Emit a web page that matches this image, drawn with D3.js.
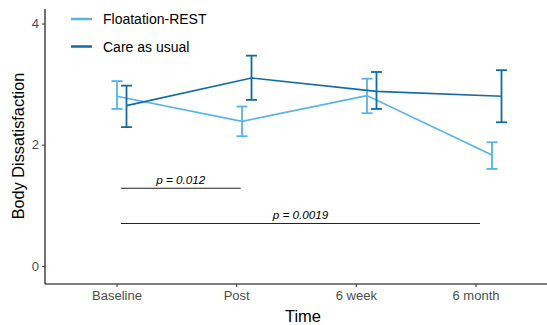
<!DOCTYPE html>
<html><head><meta charset="utf-8">
<script src="https://cdn.jsdelivr.net/npm/d3@7"></script>
<style>body{margin:0;background:#fff;font-family:"Liberation Sans",Arial,sans-serif;}</style>
</head><body>
<svg id="c" width="547" height="325"></svg>
<script>
const categories = ["Baseline", "Post", "6 week", "6 month"];
const seriesNames = ["Floatation-REST", "Care as usual"];
const floatMean = [2.80, 2.385, 2.81, 1.83];
const floatLow  = [2.59, 2.14, 2.52, 1.60];
const floatHigh = [3.05, 2.63, 3.09, 2.04];
const careMean  = [2.645, 3.10, 2.88, 2.80];
const careLow   = [2.29, 2.74, 2.59, 2.37];
const careHigh  = [2.975, 3.47, 3.20, 3.23];
const yTicks = [0, 2, 4];
const pLabels = ["p = 0.012", "p = 0.0019"];
const pHeights = [1.28, 0.70];
const pEnds = [[0, 1], [0, 3]];
const colors = ["#56B4E9", "#0f6ca6"];

const svg = d3.select("#c");
const mLeft = 45, mRight = 547, mTop = 9, mBottom = 284;
const y = d3.scaleLinear().domain([-0.3, 4.24]).range([mBottom, mTop]);
const xTick = d3.scalePoint().domain(categories).range([116.5, 475.5]);
const xPos = d3.scaleLinear().domain([0, 3]).range([121.75, 496.75]);
const dodge = [-4.75, 4.75];

// axes
const yAx = svg.append("g").attr("transform", `translate(${mLeft},0)`)
  .call(d3.axisLeft(y).tickValues(yTicks).tickFormat(d3.format("d")).tickSize(3).tickPadding(3));
yAx.select(".domain").attr("d", `M0,${mTop}V${mBottom}`).attr("stroke", "#000").attr("stroke-width", 1.1);
yAx.selectAll(".tick line").attr("stroke", "#333");
yAx.selectAll(".tick text").attr("fill", "#4d4d4d").style("font-size", "13px").style("font-family", "Liberation Sans, Arial, sans-serif");

const xAx = svg.append("g").attr("transform", `translate(0,${mBottom})`)
  .call(d3.axisBottom(xTick).tickSize(3).tickPadding(4));
xAx.select(".domain").attr("d", `M${mLeft},0H${mRight}`).attr("stroke", "#000").attr("stroke-width", 1.1);
xAx.selectAll(".tick line").attr("stroke", "#333");
xAx.selectAll(".tick text").attr("fill", "#4d4d4d").style("font-size", "13px").style("font-family", "Liberation Sans, Arial, sans-serif");

svg.append("text").attr("x", 303).attr("y", 322).attr("text-anchor", "middle")
  .style("font-size", "16.5px").text("Time");
svg.append("text").attr("transform", "translate(23.5,146) rotate(-90)").attr("text-anchor", "middle")
  .style("font-size", "16.3px").text("Body Dissatisfaction");

// p-value annotations
pLabels.forEach((lab, i) => {
  const x1 = xPos(pEnds[i][0]) - 0.75, x2 = xTick(categories[pEnds[i][1]]) + 4.5;
  svg.append("line").attr("x1", x1).attr("x2", x2).attr("y1", y(pHeights[i])).attr("y2", y(pHeights[i]))
    .attr("stroke", "#222").attr("stroke-width", 1.1);
  svg.append("text").attr("x", (x1 + x2) / 2).attr("y", y(pHeights[i]) - 4).attr("text-anchor", "middle")
    .style("font-size", "11.7px").style("font-style", "italic").text(lab);
});

// series
const series = [
  {mean: floatMean, low: floatLow, high: floatHigh},
  {mean: careMean, low: careLow, high: careHigh}
];
series.forEach((s, k) => {
  const g = svg.append("g");
  const line = d3.line().x((d, i) => xPos(i) + dodge[k]).y(d => y(d));
  g.append("path").attr("d", line(s.mean)).attr("fill", "none").attr("stroke", colors[k]).attr("stroke-width", 1.6);
  s.mean.forEach((m, i) => {
    const cx = xPos(i) + dodge[k];
    g.append("line").attr("x1", cx).attr("x2", cx).attr("y1", y(s.low[i])).attr("y2", y(s.high[i]))
      .attr("stroke", colors[k]).attr("stroke-width", 1.8);
    [s.low[i], s.high[i]].forEach(v => {
      g.append("line").attr("x1", cx - 5.5).attr("x2", cx + 5.5).attr("y1", y(v)).attr("y2", y(v))
        .attr("stroke", colors[k]).attr("stroke-width", 1.8);
    });
  });
});

// legend
seriesNames.forEach((n, k) => {
  const ly = 19 + k * 27.5;
  svg.append("line").attr("x1", 71).attr("x2", 92).attr("y1", ly).attr("y2", ly)
    .attr("stroke", colors[k]).attr("stroke-width", 2.5);
  svg.append("text").attr("x", 103).attr("y", ly + 5).style("font-size", "14px").text(n);
});
</script>
</body></html>
